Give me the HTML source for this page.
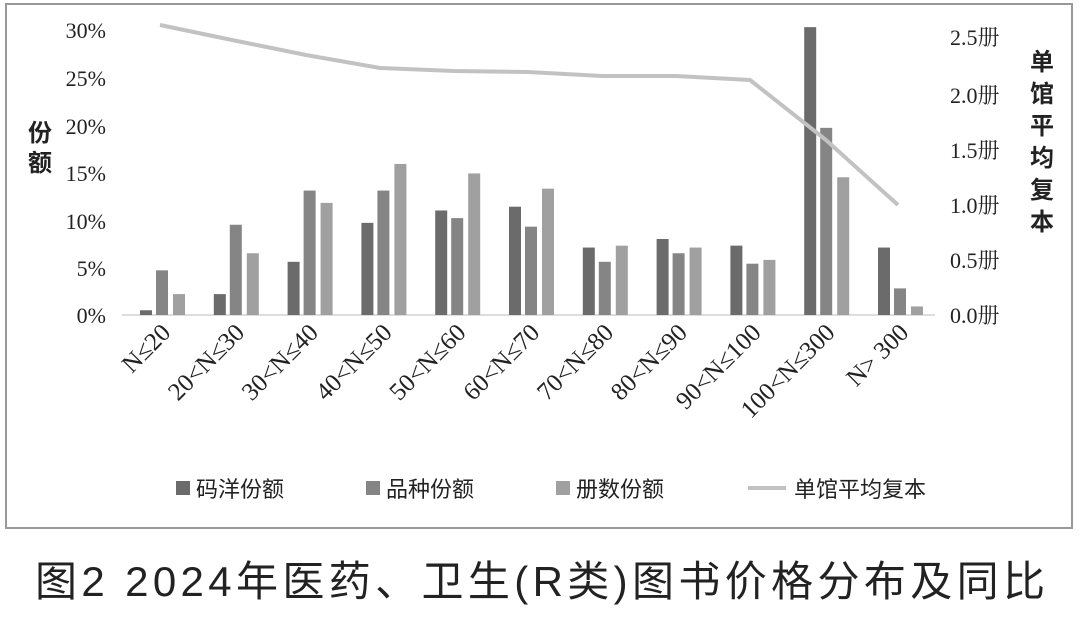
<!DOCTYPE html>
<html><head><meta charset="utf-8"><style>
body{margin:0;background:#fff;width:1080px;height:615px;overflow:hidden}
svg text{font-family:"Liberation Serif","Noto Serif CJK SC",serif;fill:#222}
.cj{font-family:"Liberation Sans","Noto Sans CJK SC",sans-serif}
</style></head><body>
<svg width="1080" height="615" xmlns="http://www.w3.org/2000/svg">
<rect x="6" y="4" width="1066" height="524" fill="#fff" stroke="#999" stroke-width="2"/>
<g font-size="22" text-anchor="end">
<text x="106" y="38">30%</text><text x="106" y="86">25%</text><text x="106" y="134">20%</text>
<text x="106" y="181">15%</text><text x="106" y="229">10%</text><text x="106" y="276">5%</text><text x="106" y="323">0%</text>
</g>
<g font-size="22" text-anchor="start">
<text x="950" y="45">2.5册</text><text x="950" y="103">2.0册</text><text x="950" y="158">1.5册</text>
<text x="950" y="213">1.0册</text><text x="950" y="268">0.5册</text><text x="950" y="323">0.0册</text>
</g>
<g class="cj" font-size="24" font-weight="bold" text-anchor="middle">
<text x="40" y="141" class="cj">份</text><text x="40" y="171" class="cj">额</text>
<text x="1042" y="70" class="cj">单</text><text x="1042" y="102" class="cj">馆</text><text x="1042" y="134" class="cj">平</text>
<text x="1042" y="166" class="cj">均</text><text x="1042" y="198" class="cj">复</text><text x="1042" y="230" class="cj">本</text>
</g>
<line x1="122" y1="315" x2="935" y2="315" stroke="#bbb" stroke-width="1"/>
<g id="bars"></g>
<polyline fill="none" stroke="#c2c2c2" stroke-width="4" points="160,25 232,40 306,55 380,68 454,71 528,72 602,76 676,76 750,80 826,140 898,205"/>
<g id="xl" font-size="25"></g>
<g class="cj" font-size="22">
<rect x="176" y="481" width="14" height="14" fill="#6b6b6b"/><text class="cj" x="196" y="497">码洋份额</text>
<rect x="366" y="481" width="14" height="14" fill="#858585"/><text class="cj" x="386" y="497">品种份额</text>
<rect x="556" y="481" width="14" height="14" fill="#a0a0a0"/><text class="cj" x="576" y="497">册数份额</text>
<line x1="748" y1="488" x2="786" y2="488" stroke="#c2c2c2" stroke-width="4"/><text class="cj" x="794" y="497">单馆平均复本</text>
</g>
<text class="cj" x="35" y="596" font-size="42" textLength="1010" lengthAdjust="spacing">图2 2024年医药、卫生(R类)图书价格分布及同比</text>
</svg>
<script>
var d=[[0.5,4.7,2.2],[2.2,9.5,6.5],[5.6,13.1,11.8],[9.7,13.1,15.9],[11,10.2,14.9],[11.4,9.3,13.3],[7.1,5.6,7.3],[8,6.5,7.1],[7.3,5.4,5.8],[30.3,19.7,14.5],[7.1,2.8,0.9]];
var L=["N≤20","20<N≤30","30<N≤40","40<N≤50","50<N≤60","60<N≤70","70<N≤80","80<N≤90","90<N≤100","100<N≤300","N> 300"];
var cols=["#6b6b6b","#858585","#a0a0a0"],off=[-22,-6,11],s="",t="";
for(var i=0;i<11;i++){var c=162+i*73.8;
for(var j=0;j<3;j++){var h=d[i][j]*9.5;s+='<rect x="'+(c+off[j])+'" y="'+(315-h)+'" width="12" height="'+h+'" fill="'+cols[j]+'"/>';}
t+='<text x="'+(c+10)+'" y="334" text-anchor="end" transform="rotate(-45 '+(c+10)+' 334)">'+L[i].replace(/</g,"&lt;")+'</text>';}
document.getElementById("bars").innerHTML=s;document.getElementById("xl").innerHTML=t;
</script>
</body></html>
